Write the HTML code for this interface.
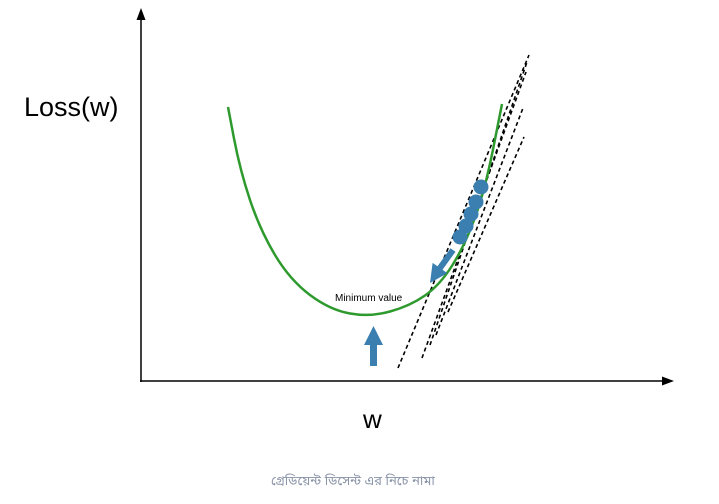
<!DOCTYPE html>
<html><head><meta charset="utf-8"><style>
body{margin:0;background:#fff;width:719px;height:499px;overflow:hidden;font-family:"Liberation Sans",sans-serif}
</style></head><body>
<svg width="719" height="499">
<defs><marker id="ah" markerWidth="8" markerHeight="8" refX="4" refY="4" orient="auto"><path d="M0,1 L8,4 L0,7z" fill="#000"/></marker></defs>
<line x1="141" y1="382" x2="141" y2="14" stroke="#000" stroke-width="1.5" marker-end="url(#ah)"/>
<line x1="140" y1="381" x2="668" y2="381" stroke="#000" stroke-width="1.5" marker-end="url(#ah)"/>
<text x="24" y="116" font-size="27">Loss(w)</text>
<text x="363" y="428" font-size="26">w</text>
<text x="335" y="301" font-size="10">Minimum value</text>
<g id="tangents"></g>
<path id="curve" fill="none" stroke="#2e9a2e" stroke-width="2.5"/>
<g id="balls"></g>
<polygon points="450.5,248.3 455.5,251.7 442.5,269.7 447.4,273.1 430,283 432.6,262.9 437.5,266.3" fill="#3a7fb0"/>
<path d="M370,366 L377,366 L377,345 L383,345 L373.5,326 L364,345 L370,345z" fill="#3a7fb0"/>
<text x="271" y="485" font-size="13" fill="#8a94a8" font-family="'Liberation Sans','Noto Sans Bengali',sans-serif">গ্রেডিয়েন্ট ডিসেন্ট এর নিচে নামা</text>
</svg>
<script>
const curveX=[228,240,260,290,330,370,410,440,465,485,502];
const curveY=[107,170,230,280,310,317,306,285,245,190,104];
const ballX=[481,476,471,466,460];
const ballY=[187,202,214,226,237];
const tanX1=[398,422,430,436,448],tanY1=[368,358,345,335,312];
const tanX2=[529,526,527,523,524],tanY2=[55,72,62,108,137];
const ns="http://www.w3.org/2000/svg";
let d="M"+curveX[0]+","+curveY[0];
for(let i=1;i<curveX.length;i++){const mx=(curveX[i-1]+curveX[i])/2,my=(curveY[i-1]+curveY[i])/2;d+=" Q"+curveX[i-1]+","+curveY[i-1]+" "+mx+","+my;}
d+=" L"+curveX[curveX.length-1]+","+curveY[curveY.length-1];
document.getElementById('curve').setAttribute('d',d);
const tg=document.getElementById('tangents');
for(let i=0;i<tanX1.length;i++){const l=document.createElementNS(ns,'line');


l.setAttribute('x1',tanX1[i]);l.setAttribute('y1',tanY1[i]);l.setAttribute('x2',tanX2[i]);l.setAttribute('y2',tanY2[i]);
l.setAttribute('stroke','#000');l.setAttribute('stroke-width','1.6');l.setAttribute('stroke-dasharray','4,3');tg.appendChild(l);}
const bg=document.getElementById('balls');
for(let i=0;i<ballX.length;i++){const c=document.createElementNS(ns,'circle');


c.setAttribute('cx',ballX[i]);c.setAttribute('cy',ballY[i]);c.setAttribute('r','7.5');c.setAttribute('fill','#3a7fb0');bg.appendChild(c);}
</script>
</body></html>
